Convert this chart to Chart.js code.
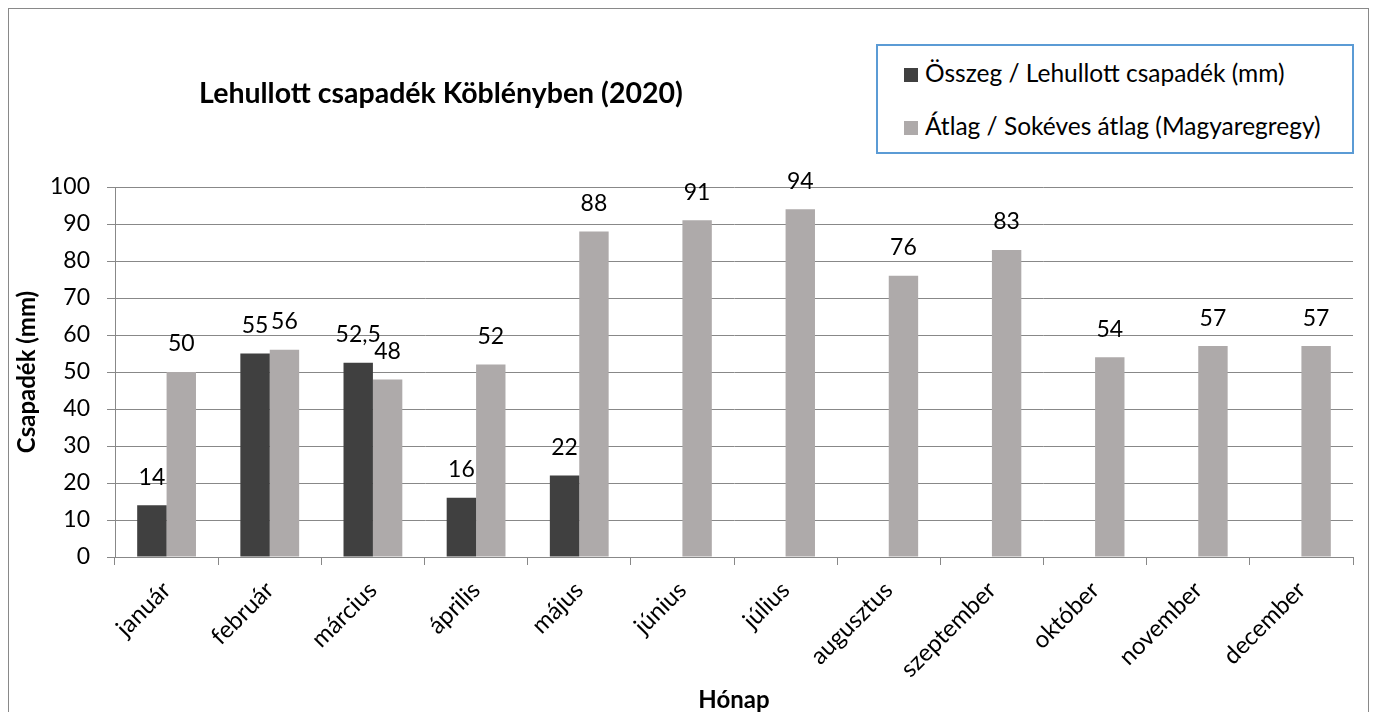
<!DOCTYPE html>
<html><head><meta charset="utf-8">
<script src="https://cdn.jsdelivr.net/npm/chart.js@4/dist/chart.umd.min.js"></script>
<style>
html,body{margin:0;padding:0;background:#fff;overflow:hidden}
#wrap{position:relative;width:1373px;height:712px;background:#fff}
#frame{position:absolute;left:8px;top:8px;width:1361px;height:730px;border:1px solid #898989;box-sizing:border-box}
canvas{position:absolute;left:0;top:0}
#title{position:absolute;left:141px;top:75px;width:600px;text-align:center;font:bold 28.5px Lato,sans-serif;line-height:34px;color:#000}
#legend{position:absolute;left:876px;top:44px;width:478px;height:110px;border:2px solid #5b9bd5;box-sizing:border-box;background:#fff}
.li{position:absolute;left:26px;font:24.5px Lato,sans-serif;line-height:30px;color:#000;white-space:nowrap}
.li span.sw{display:inline-block;width:14px;height:14px;margin-right:7px;vertical-align:0px}
</style></head>
<body>
<div id="wrap">
<div id="frame"></div>
<canvas id="c" width="1373" height="712"></canvas>
<div id="title">Lehullott csapadék Köblényben (2020)</div>
<div id="legend"></div>
</div>
<script>
const categories = ['január','február','március','április','május','június','július','augusztus','szeptember','október','november','december'];
const seriesNames = ['Összeg / Lehullott csapadék (mm)','Átlag / Sokéves átlag (Magyaregregy)'];
const osszeg = [14, 55, 52.5, 16, 22, null, null, null, null, null, null, null];
const atlag = [50, 56, 48, 52, 88, 91, 94, 76, 83, 54, 57, 57];
const yTicks = [0,10,20,30,40,50,60,70,80,90,100];
const colors = ['#404040','#aeaaaa'];

const FONT = 'Lato, sans-serif';
const fmt = v => String(v).replace('.', ',');

const valueLabels = {
  id: 'valueLabels',
  afterDatasetsDraw(chart) {
    const ctx = chart.ctx;
    ctx.save();
    ctx.font = '23px ' + FONT;
    ctx.fillStyle = '#000';
    ctx.textAlign = 'center';
    ctx.textBaseline = 'middle';
    chart.data.datasets.forEach((ds, i) => {
      chart.getDatasetMeta(i).data.forEach((bar, j) => {
        const v = ds.data[j];
        if (v == null) return;
        ctx.fillText(fmt(v), bar.x, bar.y - 28);
      });
    });
    ctx.restore();
  }
};

const chart = new Chart(document.getElementById('c'), {
  type: 'bar',
  data: {
    labels: categories,
    datasets: [
      { label: seriesNames[0], data: osszeg, backgroundColor: colors[0] },
      { label: seriesNames[1], data: atlag, backgroundColor: colors[1] }
    ]
  },
  options: {
    responsive: false,
    animation: false,
    devicePixelRatio: 1,
    layout: { padding: { left: 0, top: 187, right: 20, bottom: 0 } },
    datasets: { bar: { categoryPercentage: 0.57, barPercentage: 1.0 } },
    plugins: { legend: { display: false }, title: { display: false }, tooltip: { enabled: false } },
    scales: {
      x: {
        grid: { offset: true, drawOnChartArea: false, drawTicks: true, tickLength: 8, color: '#888' },
        border: { color: '#888' },
        ticks: { color: '#000', font: { family: FONT, size: 24 }, maxRotation: 45, minRotation: 45, padding: 11, autoSkip: false },
        title: { display: true, text: 'Hónap', color: '#000', font: { family: FONT, size: 24, weight: 'bold', lineHeight: 1 }, padding: { top: 0, bottom: 0 } },
        afterFit: s => { s.height = 155; }
      },
      y: {
        min: 0, max: 100,
        afterBuildTicks: s => { s.ticks = yTicks.map(v => ({ value: v })); },
        grid: { color: '#888', tickLength: 8 },
        border: { color: '#888' },
        ticks: { color: '#000', font: { family: FONT, size: 23 }, padding: 17 },
        title: { display: true, text: 'Csapadék (mm)', color: '#000', font: { family: FONT, size: 24, weight: 'bold' }, padding: { top: 13, bottom: 0 } },
        afterFit: s => { s.width = 115; }
      }
    }
  },
  plugins: [valueLabels]
});

const leg = document.getElementById('legend');
chart.data.datasets.forEach((ds, i) => {
  const d = document.createElement('div');
  d.className = 'li';
  d.style.top = (i === 0 ? 12 : 65) + 'px';
  const sw = document.createElement('span');
  sw.className = 'sw';
  sw.style.background = ds.backgroundColor;
  d.appendChild(sw);
  d.appendChild(document.createTextNode(ds.label));
  leg.appendChild(d);
});
</script>
</body></html>
